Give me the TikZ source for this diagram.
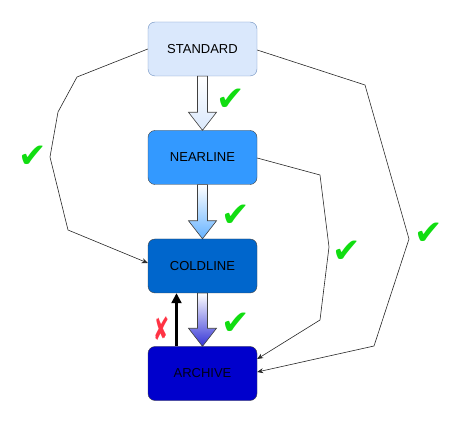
\documentclass[tikz,border=0pt]{standalone}
\usepackage{fontspec}
\setmainfont{Liberation Sans}
\newfontfamily\symfont{DejaVu Sans}
\usepackage{xcolor}
\usetikzlibrary{arrows.meta, positioning}

\definecolor{stdfill}{HTML}{DAE8FC}
\definecolor{stdline}{HTML}{6C8EBF}
\definecolor{nearfill}{HTML}{3399FF}
\definecolor{coldfill}{HTML}{0066CC}
\definecolor{archfill}{HTML}{0000CC}
\definecolor{okgreen}{HTML}{11DD11}
\definecolor{nored}{HTML}{FF3344}

\begin{document}
\begin{tikzpicture}[x=1pt, y=-1pt,
        tier/.style={draw=black!75, rounded corners=7pt, minimum width=109pt, minimum height=54pt,
        align=center, font=\fontsize{13}{15}\selectfont, inner sep=0pt},
        link/.style={-{Stealth[length=6pt, width=5pt]}, black!85, line width=0.6pt},
        backarrow/.style={-{Triangle[length=10pt, width=10pt]}, line width=2.2pt},
        ok/.style={text=okgreen, font=\symfont\fontsize{34}{34}\selectfont, inner sep=0pt},
        no/.style={text=nored, font=\symfont\bfseries\fontsize{32}{32}\selectfont, inner sep=0pt,
        xscale=0.6, transform shape},
        barrow/.style={draw=black!75, line width=0.6pt, top color=white}
      ]
      \useasboundingbox (0,0) rectangle (464,425);

      \node[tier, fill=stdfill, draw=stdline] (std)  at (202.5, 49)    {STANDARD};
      \node[tier, fill=nearfill] (near) at (202.5, 157.5) {NEARLINE};
      \node[tier, fill=coldfill] (cold) at (202.5, 266)   {COLDLINE};
      \node[tier, fill=archfill, text=black!90!blue] (arch) at (202.5, 373.5) {ARCHIVE};

      % block arrows between the tiers
      \shade[barrow, bottom color=stdfill]
        ([xshift=-5pt]std.south) -- ([xshift=-5pt, yshift=18pt]near.north)
        -- ([xshift=-14pt, yshift=18pt]near.north) -- (near.north)
        -- ([xshift=14pt, yshift=18pt]near.north) -- ([xshift=5pt, yshift=18pt]near.north)
        -- ([xshift=5pt]std.south) -- cycle;
      \shade[barrow, bottom color=nearfill!75]
        ([xshift=-5pt]near.south) -- ([xshift=-5pt, yshift=18pt]cold.north)
        -- ([xshift=-14pt, yshift=18pt]cold.north) -- (cold.north)
        -- ([xshift=14pt, yshift=18pt]cold.north) -- ([xshift=5pt, yshift=18pt]cold.north)
        -- ([xshift=5pt]near.south) -- cycle;
      \shade[barrow, bottom color=archfill!80]
        ([xshift=-5pt]cold.south) -- ([xshift=-5pt, yshift=18pt]arch.north)
        -- ([xshift=-14pt, yshift=18pt]arch.north) -- (arch.north)
        -- ([xshift=14pt, yshift=18pt]arch.north) -- ([xshift=5pt, yshift=18pt]arch.north)
        -- ([xshift=5pt]cold.south) -- cycle;

      % way back up is not allowed
      \draw[backarrow] ([xshift=-26pt]arch.north) -- ([xshift=-26pt]cold.south);

      % skipping transitions
      \draw[link] (std.west) -- (77,77) -- (58,112) -- (50,157) -- (68,230) -- ([yshift=3pt]cold.west);
      \draw[link] ([yshift=-0.5pt]near.east) -- (320,175) -- (329,247) -- (320,320) -- ([yshift=14.5pt]arch.east);
      \draw[link] ([yshift=-1pt]std.east) -- (365,85) -- (409,239) -- (374,346) -- ([yshift=1.5pt]arch.east);

      \node[ok] (ok1) at (231,100) {✔};
      \node[ok] (ok2) at (236,216) {✔};
      \node[ok] (ok3) at (236,324) {✔};
      \node[ok] (ok4) at (33,157)  {✔};
      \node[ok] (ok5) at (347,252) {✔};
      \node[ok] (ok6) at (429,234) {✔};
      \node[no] (no1) at (162,329) {✘};
    \end{tikzpicture}
\end{document}
